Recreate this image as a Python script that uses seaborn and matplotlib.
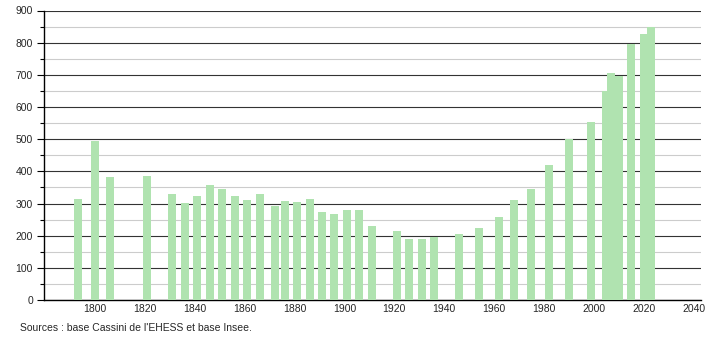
import matplotlib
matplotlib.use("Agg")
import matplotlib.pyplot as plt
from matplotlib.ticker import MultipleLocator
import seaborn as sns
import pandas as pd

years = [1793, 1800, 1806, 1821, 1831, 1836, 1841, 1846, 1851, 1856, 1861, 1866,
         1872, 1876, 1881, 1886, 1891, 1896, 1901, 1906, 1911, 1921, 1926, 1931,
         1936, 1946, 1954, 1962, 1968, 1975, 1982, 1990, 1999, 2005, 2007, 2010,
         2015, 2020, 2023]
population = [315, 495, 382, 386, 329, 302, 323, 357, 346, 323, 312, 329,
              292, 307, 304, 313, 275, 267, 281, 279, 230, 213, 189, 189,
              196, 205, 224, 259, 312, 346, 419, 499, 552, 649, 705, 697,
              797, 826, 850]
x_ticks = [1800, 1820, 1840, 1860, 1880, 1900, 1920, 1940, 1960, 1980, 2000, 2020, 2040]
y_ticks = [0, 100, 200, 300, 400, 500, 600, 700, 800, 900]
source_text = "Sources : base Cassini de l'EHESS et base Insee."

sns.set_theme(style="white")
plt.rcParams['font.family'] = ['Liberation Sans', 'DejaVu Sans']

df = pd.DataFrame({"year": years, "pop": population})

fig = plt.figure(figsize=(7.1, 3.4), dpi=100)
ax = fig.add_axes([44/710, 1-300/340, (701-44)/710, (300-10.5)/340])

sns.barplot(data=df, x="year", y="pop", native_scale=True, width=1.6,
            color="#b0e3b0", saturation=1, ax=ax, zorder=3, edgecolor="none")

ax.set_xlim(1779.5, 2043)
ax.set_ylim(0, 900)
ax.set_xticks(x_ticks)
ax.set_yticks(y_ticks)
ax.yaxis.set_minor_locator(MultipleLocator(50))
ax.grid(False)
ax.yaxis.grid(True, which="major", color="#333333", linewidth=0.8, zorder=0)
ax.yaxis.grid(True, which="minor", color="#cccccc", linewidth=0.8, zorder=0)
ax.set_axisbelow(True)
ax.set_xlabel("")
ax.set_ylabel("")

for s in ["top", "right"]:
    ax.spines[s].set_visible(False)
for s in ["left", "bottom"]:
    ax.spines[s].set_color("black")
    ax.spines[s].set_linewidth(1.0)

ax.tick_params(axis="y", which="major", length=5, width=0.8, color="black",
               labelsize=7.5, pad=3, left=True, direction="out")
ax.tick_params(axis="y", which="minor", length=3, width=0.8, color="black", left=True)
ax.tick_params(axis="x", which="both", length=0, labelsize=7.5, pad=3)

fig.text(20/710, 1-328/340, source_text, fontsize=7.5, ha="left", va="center")

fig.savefig("out.png", dpi=100)
